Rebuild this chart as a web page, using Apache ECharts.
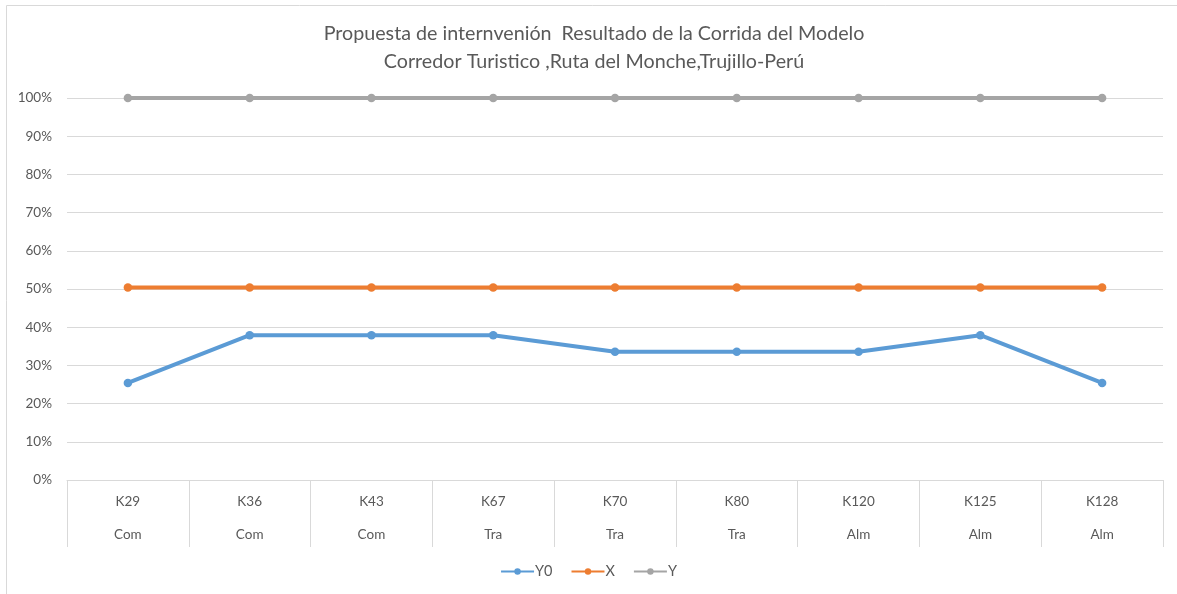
<!DOCTYPE html>
<html lang="es">
<head>
  <meta charset="utf-8" />
  <title>Propuesta de internvenión</title>
  <script src="https://cdn.jsdelivr.net/npm/echarts@6/dist/echarts.min.js"></script>
  <style>
    html, body { margin: 0; padding: 0; background: #fff; }
    #main { width: 1177px; height: 594px; }
  </style>
</head>
<body>
<div id="main"></div>
<script type="text/javascript">
  // datos
  let puntos = ['K29', 'K36', 'K43', 'K67', 'K70', 'K80', 'K120', 'K125', 'K128']
  let tipos = ['Com', 'Com', 'Com', 'Tra', 'Tra', 'Tra', 'Alm', 'Alm', 'Alm']
  let serieY0 = [25.4, 37.9, 37.9, 37.9, 33.6, 33.6, 33.6, 37.9, 25.4]
  let serieX = [50.4, 50.4, 50.4, 50.4, 50.4, 50.4, 50.4, 50.4, 50.4]
  let serieY = [100, 100, 100, 100, 100, 100, 100, 100, 100]

  let fontName = 'Lato'
  let textColor = '#595959'
  let gridColor = '#d9d9d9'

  let categorias = puntos.map((p, i) => p + '\n' + tipos[i])

  let chart = echarts.init(document.getElementById('main'))

  function linea(name, data, color) {
    return {
      name: name,
      type: 'line',
      data: data,
      symbol: 'circle',
      symbolSize: 8.5,
      lineStyle: { width: 4, color: color },
      itemStyle: { color: color },
      emphasis: { disabled: true },
    }
  }

  let option = {
    animation: false,
    textStyle: { fontFamily: fontName },
    graphic: [{
      type: 'rect',
      shape: { x: 6.5, y: 5.5, width: 1200, height: 620 },
      style: { fill: 'none', stroke: gridColor, lineWidth: 1 },
      silent: true,
    }],
    title: {
      text: 'Propuesta de internvenión  Resultado de la Corrida del Modelo\nCorredor Turistico ,Ruta del Monche,Trujillo-Perú',
      left: 589,
      textAlign: 'center',
      top: 15,
      textStyle: {
        fontFamily: fontName,
        fontSize: 19.7,
        fontWeight: 'normal',
        color: textColor,
        lineHeight: 28,
      },
    },
    legend: {
      bottom: 10,
      left: 'center',
      itemWidth: 33,
      itemHeight: 8,
      itemGap: 18,
      textStyle: { fontFamily: fontName, fontSize: 14.5, color: textColor, padding: [0, 0, 0, -4] },
      data: ['Y0', 'X', 'Y'],
    },
    grid: {
      left: 67,
      right: 14,
      top: 98,
      bottom: 114,
      containLabel: false,
    },
    xAxis: {
      type: 'category',
      data: categorias,
      boundaryGap: true,
      axisLine: { lineStyle: { color: gridColor } },
      axisTick: { show: true, length: 67, interval: 0, lineStyle: { color: gridColor } },
      axisLabel: {
        interval: 0,
        margin: 5,
        lineHeight: 33,
        fontSize: 13.5,
        color: textColor,
        fontFamily: fontName,
      },
    },
    yAxis: {
      type: 'value',
      min: 0,
      max: 100,
      interval: 10,
      axisLine: { show: false },
      axisTick: { show: false },
      splitLine: { lineStyle: { color: gridColor } },
      axisLabel: {
        formatter: '{value}%',
        margin: 15,
        fontSize: 13.5,
        color: textColor,
        fontFamily: fontName,
      },
    },
    series: [
      linea('Y0', serieY0, '#5b9bd5'),
      linea('X', serieX, '#ed7d31'),
      linea('Y', serieY, '#a5a5a5'),
    ],
  }

  chart.setOption(option)
</script>
</body>
</html>
